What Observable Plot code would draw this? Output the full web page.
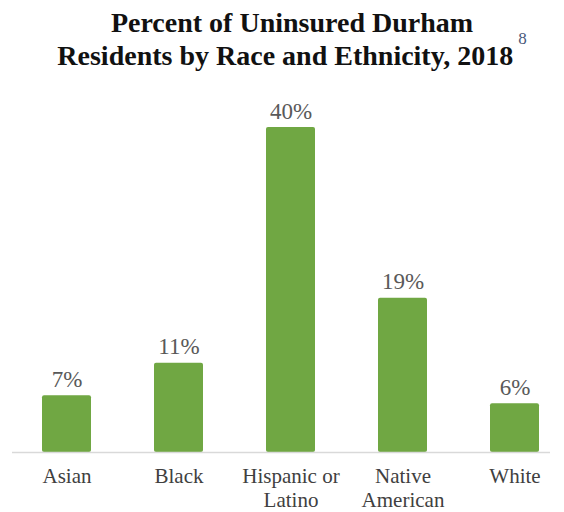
<!DOCTYPE html>
<html>
<head>
<meta charset="utf-8">
<script src="https://cdn.jsdelivr.net/npm/d3@7"></script>
<script src="https://cdn.jsdelivr.net/npm/@observablehq/plot@0.6"></script>
<style>
  body { margin: 0; background: #fff; }
  #title { height: 75px; box-sizing: border-box; padding-top: 6px; padding-left: 20px; text-align: center;
    font-family: "Liberation Serif", "Times New Roman", serif; font-weight: bold; font-size: 28px;
    line-height: 33px; color: #111; white-space: nowrap; }
  #title sup { font-size: 17px; line-height: 0; font-weight: normal; color: #4a5a7a; position: relative; top: -21px; vertical-align: baseline; margin-left: 5px; }
</style>
</head>
<body>
<div id="title">Percent of Uninsured Durham<br>Residents by Race and Ethnicity, 2018<sup>8</sup></div>
<div id="chart"></div>
<script>
const categories = ["Asian", "Black", "Hispanic or\nLatino", "Native\nAmerican", "White"];
const values = [7, 11, 40, 19, 6];
const valueLabels = ["7%", "11%", "40%", "19%", "6%"];

const data = categories.map((c, i) => ({category: c, value: values[i], label: valueLabels[i]}));

const chart = Plot.plot({
  width: 564,
  height: 437,
  marginLeft: 12,
  marginRight: 14,
  marginTop: 0,
  marginBottom: 0,
  style: {fontFamily: "'Liberation Serif', 'Times New Roman', serif", background: "#fff"},
  x: {domain: categories, range: [11, 571], paddingInner: 0.56, paddingOuter: 0.28, axis: null},
  y: {domain: [0, 40], range: [377, 52], axis: null},
  marks: [
    Plot.barY(data, {x: "category", y: "value", fill: "#70a743", rx: 2}),
    Plot.ruleY([0], {stroke: "#d9d9d9", strokeWidth: 1.5}),
    Plot.text(data, {x: "category", y: "value", text: "label", lineAnchor: "bottom", dy: -9, fontSize: 23, fill: "#595959"}),
    Plot.text(data, {x: "category", y: 0, text: "category", lineAnchor: "top", dy: 14, fontSize: 21, fill: "#404040", lineHeight: 1.13})
  ]
});
document.getElementById("chart").appendChild(chart);
</script>
</body>
</html>
